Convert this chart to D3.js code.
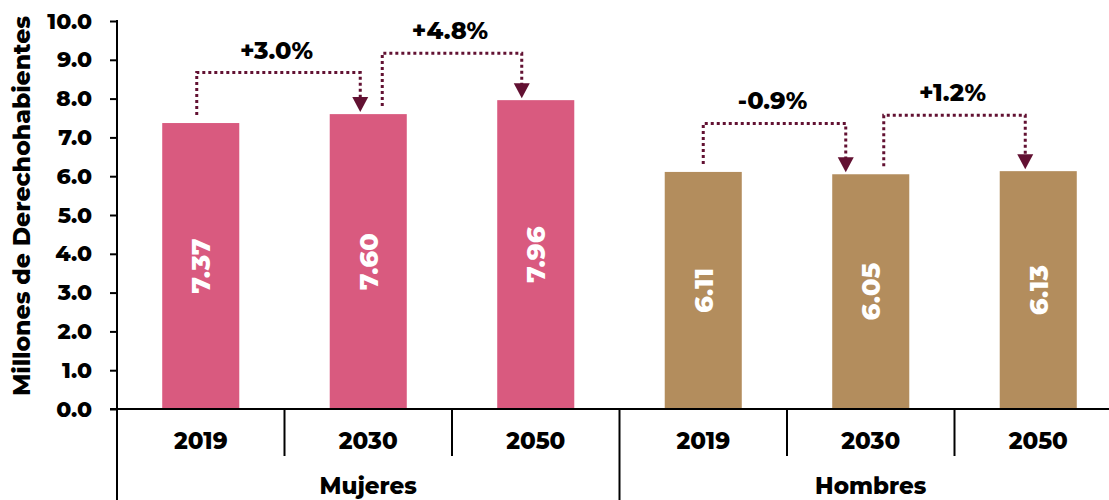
<!DOCTYPE html>
<html>
<head>
<meta charset="utf-8"/>
<script src="https://d3js.org/d3.v7.min.js"></script>
<style>
body { margin: 0; background: #fff; }
text { font-family: "Montserrat", "DejaVu Sans", sans-serif; font-weight: 800; }
.axis path, .axis line { stroke: #000; stroke-width: 2; }
</style>
</head>
<body>
<script>
// datos
var groups = ["Mujeres", "Hombres"];
var years = ["2019", "2030", "2050"];
var mujeres = [7.37, 7.60, 7.96];
var hombres = [6.11, 6.05, 6.13];
var yTicks = [0, 1, 2, 3, 4, 5, 6, 7, 8, 9, 10];

// variaciones entre años (indices de categoria, nivel de la linea punteada)
var changes = [
    { label: "+3.0%", from: 0, to: 1, level: 8.67 },
    { label: "+4.8%", from: 1, to: 2, level: 9.17 },
    { label: "-0.9%", from: 3, to: 4, level: 7.36 },
    { label: "+1.2%", from: 4, to: 5, level: 7.57 }
];

// desplazamientos horizontales de los corchetes (px)
var bracketShift = [[-4, -8], [14, -14], [0, -25], [13, -13]];

var width = 1109, height = 500;
var x0 = 117, y0 = 409, yTop = 21;
var cell = 167.5;

var colors = { Mujeres: "#d95a7f", Hombres: "#b38d5d" };
var arrowColor = "#621132";

var rows = [];
groups.forEach(function(g, gi) {
    var vals = gi === 0 ? mujeres : hombres;
    years.forEach(function(yr, i) {
        rows.push({ key: g + yr, group: g, year: yr, value: vals[i] });
    });
});

var x = d3.scaleBand()
          .domain(rows.map(function(d) { return d.key; }))
          .range([x0, x0 + cell * rows.length])
          .padding(0);

var barW = x.bandwidth() * 0.46;

var y = d3.scaleLinear()
          .domain([0, 10])
          .range([y0, yTop]);

var svg = d3.select("body")
            .append("svg")
            .attr("width", width)
            .attr("height", height);

// bars
svg.append("g")
   .selectAll("rect")
   .data(rows)
   .enter()
   .append("rect")
   .attr("x", function(d) { return x(d.key) + (x.bandwidth() - barW) / 2; })
   .attr("width", barW)
   .attr("y", function(d) { return y(d.value); })
   .attr("height", function(d) { return y(0) - y(d.value); })
   .attr("fill", function(d) { return colors[d.group]; });

// value labels
svg.append("g")
   .selectAll("text")
   .data(rows)
   .enter()
   .append("text")
   .attr("transform", function(d) {
        var cx = x(d.key) + x.bandwidth() / 2;
        var cy = (y(d.value) + y(0)) / 2;
        return "translate(" + cx + "," + cy + ") rotate(-90)";
    })
   .attr("text-anchor", "middle")
   .attr("dy", "0.36em")
   .attr("fill", "#fff")
   .style("font-size", "26px")
   .text(function(d) { return d.value.toFixed(2); });

// y axis
var yAxis = d3.axisLeft(y)
              .tickValues(yTicks)
              .tickSize(7)
              .tickPadding(18)
              .tickFormat(d3.format(".1f"));

var gy = svg.append("g")
            .attr("class", "axis")
            .attr("transform", "translate(" + x0 + ",0)")
            .call(yAxis);
gy.select(".domain").remove();
gy.selectAll("text")
  .attr("fill", "#000")
  .style("font-size", "22px");

// axis lines
svg.append("line")
   .attr("x1", x0).attr("x2", x0)
   .attr("y1", yTop - 1).attr("y2", height)
   .attr("stroke", "#000").attr("stroke-width", 2);
svg.append("line")
   .attr("x1", x0 - 7).attr("x2", width)
   .attr("y1", y0).attr("y2", y0)
   .attr("stroke", "#000").attr("stroke-width", 2);

// category separators
var seps = d3.range(1, rows.length);
svg.append("g")
   .selectAll("line")
   .data(seps)
   .enter()
   .append("line")
   .attr("x1", function(i) { return x0 + cell * i; })
   .attr("x2", function(i) { return x0 + cell * i; })
   .attr("y1", y0)
   .attr("y2", function(i) { return i % years.length === 0 ? height : 456; })
   .attr("stroke", "#000")
   .attr("stroke-width", 2);

// year labels
svg.append("g")
   .selectAll("text")
   .data(rows)
   .enter()
   .append("text")
   .attr("x", function(d) { return x(d.key) + x.bandwidth() / 2; })
   .attr("y", 449)
   .attr("text-anchor", "middle")
   .style("font-size", "23px")
   .text(function(d) { return d.year; });

// group labels
svg.append("g")
   .selectAll("text")
   .data(groups)
   .enter()
   .append("text")
   .attr("x", function(d, i) { return x0 + cell * years.length * (i + 0.5); })
   .attr("y", 494)
   .attr("text-anchor", "middle")
   .style("font-size", "23px")
   .text(function(d) { return d; });

// y axis title
svg.append("text")
   .attr("transform", "translate(30," + 206 + ") rotate(-90)")
   .attr("text-anchor", "middle")
   .style("font-size", "23.5px")
   .text("Millones de Derechohabientes");

// change brackets
var cx = function(i) { return x(rows[i].key) + x.bandwidth() / 2; };
var ann = svg.append("g");
changes.forEach(function(c, k) {
    var xs = cx(c.from) + bracketShift[k][0];
    var xe = cx(c.to) + bracketShift[k][1];
    var yl = y(c.level);
    var ys = y(rows[c.from].value) - 8;
    var ye = y(rows[c.to].value) - 2;
    ann.append("path")
       .attr("d", "M" + xs + "," + ys + "V" + yl + "H" + xe + "V" + (ye - 14))
       .attr("fill", "none")
       .attr("stroke", arrowColor)
       .attr("stroke-width", 3)
       .attr("stroke-dasharray", "3,3");
    ann.append("path")
       .attr("d", "M" + (xe - 8) + "," + (ye - 15) + "L" + (xe + 8) + "," + (ye - 15) + "L" + xe + "," + ye + "Z")
       .attr("fill", arrowColor);
    ann.append("text")
       .attr("x", (xs + xe) / 2 - 2)
       .attr("y", yl - 14)
       .attr("text-anchor", "middle")
       .style("font-size", "24px")
       .text(c.label);
});
</script>
</body>
</html>
